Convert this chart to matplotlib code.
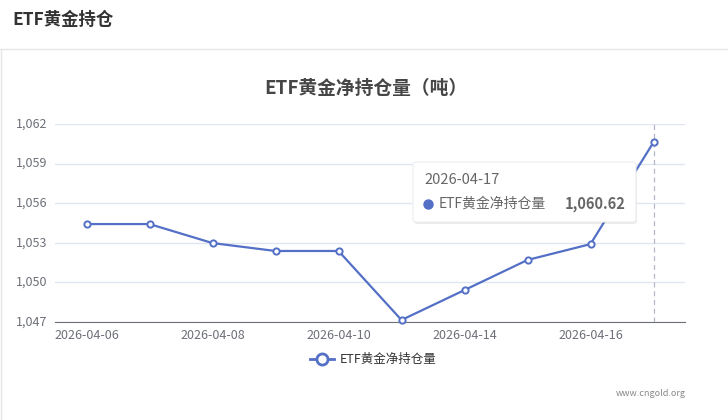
import numpy as np
import matplotlib.pyplot as plt
from matplotlib.patches import FancyBboxPatch, Rectangle
from matplotlib.lines import Line2D

plt.rcParams['font.family'] = ['Noto Sans CJK SC', 'DejaVu Sans']

# data
dates = ["2026-04-06", "2026-04-07", "2026-04-08", "2026-04-09", "2026-04-10",
         "2026-04-13", "2026-04-14", "2026-04-15", "2026-04-16", "2026-04-17"]
holdings = [1054.42, 1054.42, 1052.98, 1052.38, 1052.38,
            1047.15, 1049.42, 1051.70, 1052.90, 1060.62]
y_ticks = [1047, 1050, 1053, 1056, 1059, 1062]
series_name = "ETF黄金净持仓量"

W, H = 728, 420
lineColor = "#5470C6"
axisColor = "#6E7079"
gridColor = "#E0E6F1"

fig = plt.figure(figsize=(W / 100, H / 100), dpi=100)

def fx(px):
    return px / W

def fy(py):
    return 1 - py / H

# page header + container border
fig.text(fx(12), fy(20), "ETF黄金持仓", fontsize=12.5, fontweight="bold",
         color="#333333", va="center", ha="left")
fig.add_artist(Line2D([0, 1], [fy(49), fy(49)], color="#E6E6E6", lw=1))
fig.add_artist(Line2D([fx(1), fx(1)], [fy(49), 0], color="#E6E6E6", lw=1))

# chart title
fig.text(fx(366), fy(88), "ETF黄金净持仓量（吨）", fontsize=13.5, fontweight="bold",
         color="#464646", ha="center", va="center")

ax = fig.add_axes([fx(55), fy(322), fx(685) - fx(55), (322 - 124) / H])
x = np.arange(len(dates))
ax.plot(x, holdings, color=lineColor, lw=1.6, marker="o", markersize=4.5,
        markerfacecolor="white", markeredgecolor=lineColor, markeredgewidth=1.4,
        zorder=3, clip_on=False)

ax.set_xlim(-0.5, len(dates) - 0.5)
ax.set_ylim(y_ticks[0], y_ticks[-1])
ax.set_yticks(y_ticks)
ax.set_yticklabels([])
ax.set_xticks(x[::2])
ax.set_xticklabels(dates[::2], fontsize=9, color=axisColor)
ax.tick_params(axis="x", length=0, pad=5)
ax.tick_params(axis="y", length=0)
ax.grid(axis="y", color=gridColor, lw=1)
for s in ["top", "right", "left"]:
    ax.spines[s].set_visible(False)
ax.spines["bottom"].set_color(axisColor)
ax.set_axisbelow(True)

# y labels, clipped on the left like the original container
clip = Rectangle((fx(20), 0), 1, 1, transform=fig.transFigure)
for v in y_ticks:
    t = ax.text(-0.012, v, "{:,}".format(v), transform=ax.get_yaxis_transform(),
                ha="right", va="center", fontsize=9, color=axisColor)
    t.set_clip_path(clip)

# hover line on last point
ax.axvline(x[-1], color="#B4B8C8", lw=0.9, ls=(0, (4, 3)), zorder=2)

# tooltip
tip = FancyBboxPatch((fx(413), fy(222)), fx(636) - fx(413), (222 - 162) / H,
                     boxstyle="round,pad=0,rounding_size=0.006",
                     transform=fig.transFigure, facecolor="white",
                     edgecolor="#EEEEEE", lw=0.8, zorder=10)
shadow = FancyBboxPatch((fx(414), fy(224)), fx(636) - fx(413), (222 - 162) / H,
                        boxstyle="round,pad=0,rounding_size=0.006",
                        transform=fig.transFigure, facecolor="#000000",
                        edgecolor="none", alpha=0.08, zorder=9)
fig.add_artist(shadow)
fig.add_artist(tip)
fig.text(fx(424), fy(180), dates[-1], fontsize=10.5, color="#666666",
         va="center", ha="left", zorder=11)
fig.add_artist(Line2D([fx(428)], [fy(204)], marker="o", markersize=6.5,
                      color=lineColor, transform=fig.transFigure, zorder=11))
fig.text(fx(439), fy(204), series_name, fontsize=10, color="#666666",
         va="center", ha="left", zorder=11)
fig.text(fx(626), fy(204), "{:,.2f}".format(holdings[-1]), fontsize=10.5,
         fontweight="bold", color="#666666", va="center", ha="right", zorder=11)

# legend
fig.add_artist(Line2D([fx(310), fx(334)], [fy(359), fy(359)], color=lineColor, lw=2))
fig.add_artist(Line2D([fx(322)], [fy(359)], marker="o", markersize=8,
                      markerfacecolor="white", markeredgecolor=lineColor,
                      markeredgewidth=2))
fig.text(fx(340), fy(359), series_name, fontsize=9, color="#333333",
         va="center", ha="left")

# watermark
fig.text(fx(686), fy(393), "www.cngold.org", fontsize=6.5, color="#888888",
         ha="right", va="center")

fig.savefig("out.png", dpi=100)
